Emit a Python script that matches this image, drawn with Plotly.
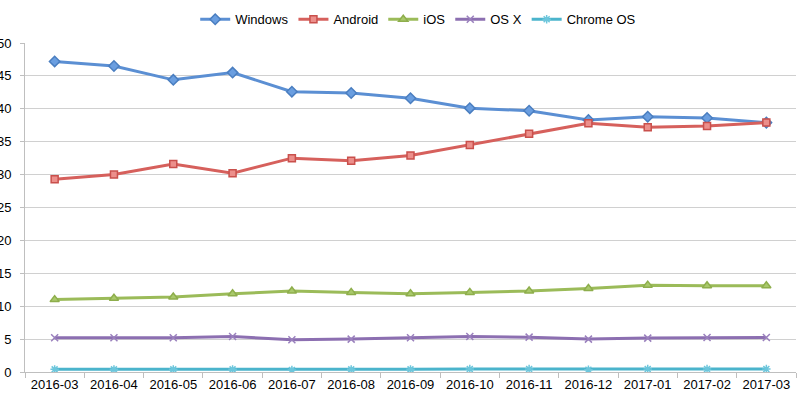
import plotly.graph_objects as go

months = ["2016-03", "2016-04", "2016-05", "2016-06", "2016-07", "2016-08", "2016-09",
          "2016-10", "2016-11", "2016-12", "2017-01", "2017-02", "2017-03"]
windows = [47.2, 46.5, 44.4, 45.5, 42.6, 42.4, 41.6, 40.1, 39.7, 38.3, 38.8, 38.6, 37.9]
android = [29.3, 30.0, 31.6, 30.2, 32.5, 32.1, 32.9, 34.5, 36.2, 37.8, 37.2, 37.4, 37.9]
ios = [11.0, 11.2, 11.4, 11.9, 12.3, 12.1, 11.9, 12.1, 12.3, 12.7, 13.2, 13.1, 13.1]
osx = [5.2, 5.2, 5.2, 5.4, 4.9, 5.0, 5.2, 5.4, 5.3, 5.0, 5.15, 5.25, 5.25]
chromeos = [0.4, 0.4, 0.4, 0.4, 0.3, 0.4, 0.4, 0.45, 0.45, 0.35, 0.45, 0.45, 0.45]

series = [
    ("Windows", windows, "#5b8fd3", "diamond", "#6a9ee0", "#4a7ec0", 8),
    ("Android", android, "#d6605c", "square", "#ec8f8b", "#c9504c", 7),
    ("iOS", ios, "#9bbb59", "triangle-up", "#a9c96b", "#8eae4c", 8),
    ("OS X", osx, "#8c6fb1", "x-thin-open", "#9a80bd", "#9a80bd", 7),
    ("Chrome OS", chromeos, "#4bb4cc", "asterisk-open", "#6cc6dc", "#6cc6dc", 7),
]

fig = go.Figure()
for name, vals, col, sym, mfill, mline, msz in series:
    fig.add_trace(go.Scatter(
        x=months, y=vals, name=name, mode="lines+markers",
        line=dict(color=col, width=3),
        marker=dict(symbol=sym, size=msz, color=mfill,
                    line=dict(color=mline, width=1.5)),
    ))

fig.update_layout(
    width=800, height=397,
    margin=dict(l=25, r=4, t=37, b=25),
    paper_bgcolor="white", plot_bgcolor="white",
    font=dict(family="Liberation Sans, Arial, sans-serif", size=13, color="#000000"),
    legend=dict(orientation="h", x=0.51, xanchor="center", y=1.072, yanchor="middle",
                font=dict(size=13), itemwidth=30, tracegroupgap=0,
                bgcolor="rgba(0,0,0,0)"),
    showlegend=True,
)
fig.update_xaxes(
    type="category", range=[-0.5, 12.5], tickson="boundaries",
    ticks="outside", ticklen=5, tickcolor="#bfbfbf",
    showline=True, linecolor="#bfbfbf", linewidth=1,
    showgrid=False, tickfont=dict(size=13), automargin=False,
)
fig.update_yaxes(
    range=[0, 50], dtick=5, ticks="outside", ticklen=4, tickcolor="#bfbfbf",
    showline=True, linecolor="#bfbfbf", linewidth=1,
    showgrid=True, gridcolor="#d0d0d0", gridwidth=1,
    zeroline=False, tickfont=dict(size=13), ticklabelstandoff=6,
    automargin=False,
)

fig.write_html("out.html", config={"displayModeBar": False},
               post_script="document.body.style.margin='0';document.body.style.overflow='hidden';")
